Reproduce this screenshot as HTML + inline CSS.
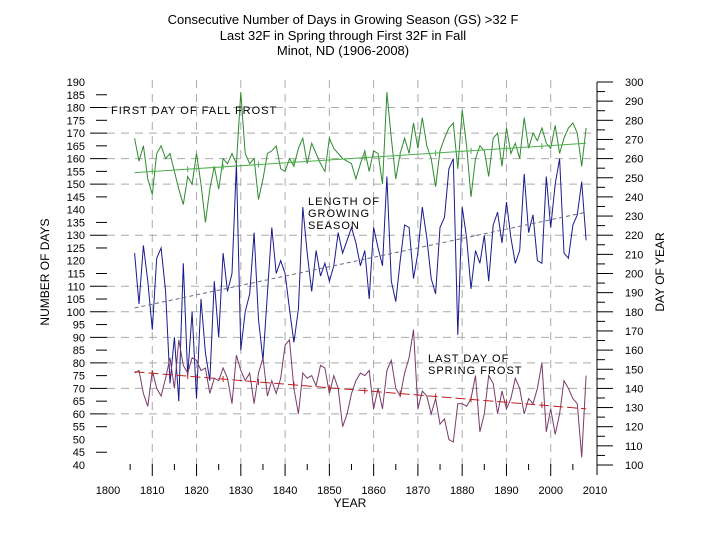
<!DOCTYPE html>
<html><head><meta charset="utf-8"><style>
html,body{margin:0;padding:0;background:#fff;width:720px;height:540px;overflow:hidden}
svg{display:block;font-family:"Liberation Sans",sans-serif}
</style></head><body>
<svg id="chart" width="720" height="540" viewBox="0 0 720 540">
<g font-size="13" text-anchor="middle" fill="#000">
<text x="343" y="24">Consecutive Number of Days in Growing Season (GS) &gt;32 F</text>
<text x="343" y="40">Last 32F in Spring through First 32F in Fall</text>
<text x="343" y="55">Minot, ND (1906-2008)</text>
</g>
<g id="grid"></g>
<g id="axes"></g>
<g id="series"></g>
<g font-size="11" fill="#000" letter-spacing="1">
<text x="111" y="114">FIRST DAY OF FALL FROST</text>
<text x="308" y="205">LENGTH OF</text>
<text x="308" y="217">GROWING</text>
<text x="308" y="229">SEASON</text>
<text x="428" y="362">LAST DAY OF</text>
<text x="428" y="374">SPRING FROST</text>
</g>
<text x="0" y="0" transform="translate(49,272) rotate(-90)" text-anchor="middle" font-size="12">NUMBER OF DAYS</text>
<text x="0" y="0" transform="translate(664,272) rotate(-90)" text-anchor="middle" font-size="12">DAY OF YEAR</text>
<text x="350" y="507" text-anchor="middle" font-size="12">YEAR</text>
</svg>
<script>
const startYear = 1906;
const fallFrost = [168,159,165,152,146,162,165,160,162,155,148,142,153,150,162,150,135,148,157,148,160,158,162,158,186,162,
158,160,144,152,162,163,165,156,155,160,157,164,168,158,166,162,158,155,168,164,162,160,159,158,152,158,
163,155,163,162,150,186,168,152,162,168,162,174,164,176,165,160,149,163,168,172,174,156,179,165,145,160,165,
163,153,168,170,157,172,162,166,160,176,164,170,167,172,166,164,173,162,168,172,174,170,157,172];
const seasonLength = [123,103,126,112,93,121,125,108,72,90,65,119,75,100,66,105,84,73,112,90,123,108,115,158,85,100,
107,131,97,81,107,133,115,120,115,101,88,101,141,123,108,124,114,119,112,118,131,123,128,133,127,118,
124,105,133,125,118,153,112,104,120,134,133,113,123,141,129,113,107,133,137,156,160,91,141,129,109,124,119,130,
112,134,139,127,143,129,119,124,154,131,138,120,119,153,133,150,160,123,121,134,138,151,128];
const springFrost = [76,77,68,63,77,70,67,74,82,70,89,79,76,82,81,77,78,68,74,73,78,74,64,83,77,73,
76,64,76,82,67,73,68,74,87,89,70,60,76,74,75,71,79,78,68,75,70,55,60,68,73,76,
75,77,62,70,62,77,81,70,67,76,82,93,62,69,67,60,66,56,58,50,49,64,64,63,66,75,53,60,
75,72,60,69,62,66,74,70,60,66,64,70,80,53,62,52,60,73,70,66,64,43,75];
const trendYears = [1906, 2008];
const fallTrend = [154.5, 166];
const lengthTrend = [101.5, 139];
const springTrend = [76.5, 62];
const leftTicks = [190,185,180,175,170,165,160,155,150,145,140,135,130,125,120,115,110,105,100,95,90,85,80,75,70,65,60,55,50,45,40];
const rightTicks = [300,290,280,270,260,250,240,230,220,210,200,190,180,170,160,150,140,130,120,110,100];
const xTickLabels = ["1800","1810","1820","1830","1840","1850","1860","1870","1880","1890","2000","2010"];
const xTickYears = [1900,1910,1920,1930,1940,1950,1960,1970,1980,1990,2000,2010];
const gridValues = [180,170,160,150,130,110,100,90,80,70,60];
const gridYears = [1910,1920,1930,1940,1950,1960,1970,1980,1990,2000];

const NS="http://www.w3.org/2000/svg";
const X0=107,X1=597,Y0=465,Y1=82;
function xs(yr){return 108+(yr-1900)*(595-108)/110;}
function ys(v){return Y0-(v-40)*(Y0-Y1)/150;}
function yr2(v){return Y0-(v-100)*(Y0-Y1)/200;}
function mk(tag,attrs,parent){const e=document.createElementNS(NS,tag);for(const k in attrs)e.setAttribute(k,attrs[k]);parent.appendChild(e);return e;}
const grid=document.getElementById('grid'),axes=document.getElementById('axes'),series=document.getElementById('series');

gridValues.forEach(v=>{const l=mk('line',{x1:X0,x2:X1,y1:ys(v),y2:ys(v),stroke:'#aaa','stroke-width':1,'stroke-dasharray':'8,6'},grid);

});
gridYears.forEach(y=>{const l=mk('line',{x1:xs(y),x2:xs(y),y1:80,y2:470,stroke:'#aaa','stroke-width':1,'stroke-dasharray':'8,6'},grid);

});

leftTicks.forEach(v=>{
 const t=mk('text',{x:85,y:ys(v)+4,'text-anchor':'end','font-size':11},axes);t.textContent=v;
 
 
 if(v!==190&&v!==40&&v!==140&&v!==120&&v!==50){const long=v%10===0;
  const l=mk('line',{x1:long?90:96,x2:107,y1:ys(v),y2:ys(v),stroke:'#000','stroke-width':1},axes);
  
  }
});
const ax=mk('line',{x1:X1,x2:X1,y1:82,y2:475,stroke:'#000','stroke-width':1},axes);


rightTicks.forEach(v=>{
 const t=mk('text',{x:625,y:yr2(v)+4,'font-size':11},axes);t.textContent=v;
 
 
 const l=mk('line',{x1:X1,x2:X1+16,y1:yr2(v),y2:yr2(v),stroke:'#000','stroke-width':1},axes);
 
 
 if(v<300){const s=mk('line',{x1:X1,x2:X1+8,y1:yr2(v+5),y2:yr2(v+5),stroke:'#000','stroke-width':1},axes);
 
 }
});
xTickLabels.forEach((lab,i)=>{
 const t=mk('text',{x:xs(xTickYears[i]),y:494,'text-anchor':'middle','font-size':11},axes);t.textContent=lab;
 
 
 if(i>0&&i<11){const l=mk('line',{x1:xs(xTickYears[i]),x2:xs(xTickYears[i]),y1:464,y2:476,stroke:'#000','stroke-width':1},axes);
 
 }
 if(i<11){const l2=mk('line',{x1:xs(xTickYears[i]+5),x2:xs(xTickYears[i]+5),y1:464,y2:470,stroke:'#000','stroke-width':1},axes);
 
 }
});

function drawSeries(vals,color,name){
 const pts=vals.map((v,i)=>xs(startYear+i).toFixed(1)+','+ys(v).toFixed(1)).join(' ');
 const p=mk('polyline',{points:pts,fill:'none',stroke:color,'stroke-width':1},series);
 
 
}
function drawTrend(tr,color,name,dash,cross){
 const l=mk('line',{x1:xs(trendYears[0]),y1:ys(tr[0]),x2:xs(trendYears[1]),y2:ys(tr[1]),stroke:color,'stroke-width':1,'stroke-dasharray':dash},series);
 
 
 if(cross){for(let y=1910;y<=2005;y+=8){const f=(y-trendYears[0])/(trendYears[1]-trendYears[0]);const v=tr[0]+f*(tr[1]-tr[0]);
  const c=mk('line',{x1:xs(y),x2:xs(y),y1:ys(v)-3,y2:ys(v)+3,stroke:color,'stroke-width':1},series);
  
  }}
}
drawSeries(fallFrost,'#2e8b2e','fall-frost-line');
drawSeries(seasonLength,'#1a1a8c','season-length-line');
drawSeries(springFrost,'#7a3a6a','spring-frost-line');
drawTrend(fallTrend,'#4caf4c','fall-frost-trend','',true);
drawTrend(lengthTrend,'#6a6a8a','season-length-trend','4,3',false);
drawTrend(springTrend,'#c02020','spring-frost-trend','10,4',true);
</script>
</body></html>
